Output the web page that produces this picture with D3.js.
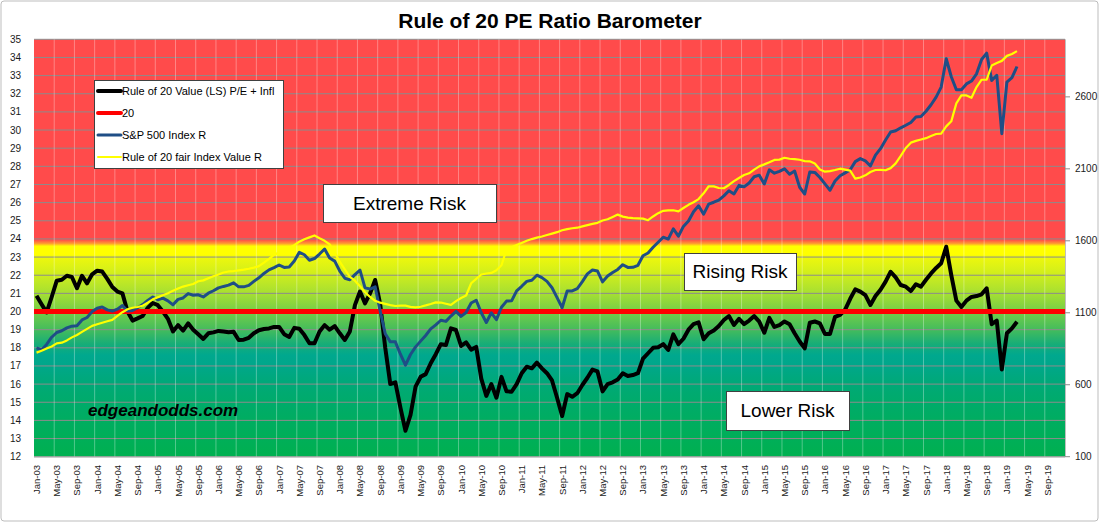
<!DOCTYPE html>
<html><head><meta charset="utf-8">
<script src="https://cdn.jsdelivr.net/npm/d3@7"></script>
<style>
html,body{margin:0;padding:0;background:#fff;}
text{font-family:"Liberation Sans",Arial,sans-serif;}
</style></head>
<body><svg id="c" width="1100" height="523"></svg>
<script>
// ---------- DATA ----------
const startMonth = new Date(2003, 0, 1);
const endMonth = new Date(2020, 0, 1); // exclusive: categories Jan-03 .. Dec-19
const fmt = d3.timeFormat("%b-%y");
const categories = d3.timeMonths(startMonth, endMonth).map(fmt);

const tickLabels = ["Jan-03","May-03","Sep-03","Jan-04","May-04","Sep-04","Jan-05","May-05","Sep-05",
"Jan-06","May-06","Sep-06","Jan-07","May-07","Sep-07","Jan-08","May-08","Sep-08","Jan-09","May-09","Sep-09",
"Jan-10","May-10","Sep-10","Jan-11","May-11","Sep-11","Jan-12","May-12","Sep-12","Jan-13","May-13","Sep-13",
"Jan-14","May-14","Sep-14","Jan-15","May-15","Sep-15","Jan-16","May-16","Sep-16","Jan-17","May-17","Sep-17",
"Jan-18","May-18","Sep-18","Jan-19","May-19","Sep-19"];

const leftTicks = [12,13,14,15,16,17,18,19,20,21,22,23,24,25,26,27,28,29,30,31,32,33,34,35];
const rightTicks = [100,600,1100,1600,2100,2600];

// Rule of 20 Value (LS) P/E + Infl  (monthly from Jan-03)
const ruleOf20 = [20.87,20.4,19.95,20.8,21.7,21.75,21.97,21.9,21.28,21.97,21.55,22.05,22.25,22.2,21.8,21.35,21.1,21.0,20.0,19.5,
19.62,19.75,20.2,20.47,20.35,20.0,19.6,18.9,19.25,18.95,19.35,19.0,18.75,18.49,18.8,18.85,18.93,18.9,18.86,18.88,
18.43,18.45,18.55,18.8,18.97,19.04,19.07,19.15,19.15,18.75,18.6,19.1,19.05,18.7,18.25,18.25,18.9,19.25,19.0,19.2,
18.8,18.43,18.9,20.35,21.1,20.45,21.0,21.74,20.4,18.0,16.0,16.1,14.7,13.43,14.3,15.86,16.4,16.55,17.15,17.65,
18.2,18.15,19.07,18.98,18.1,18.3,17.9,18.05,16.3,15.35,16.0,15.25,16.4,15.6,15.58,16.0,16.6,16.96,16.87,17.18,
16.87,16.6,16.2,15.25,14.24,15.45,15.3,15.5,15.95,16.35,16.8,16.7,15.6,16.0,16.1,16.25,16.6,16.45,16.5,16.6,
17.4,17.7,18.0,18.03,18.2,17.88,18.74,18.2,18.5,19.0,19.3,19.4,18.47,18.8,18.95,19.2,19.53,19.75,19.26,19.6,
19.3,19.5,19.75,19.44,18.83,19.65,19.15,19.25,19.45,19.3,18.8,18.35,17.97,19.38,19.45,19.35,18.76,18.76,19.71,19.81,
20.1,20.7,21.22,21.1,20.9,20.36,20.85,21.2,21.65,22.19,21.88,21.46,21.37,21.13,21.5,21.37,21.75,22.1,22.4,22.66,
23.57,22.0,20.6,20.25,20.6,20.8,20.85,20.95,21.28,19.3,19.5,16.8,18.8,19.07,19.44];

// 20 reference level
const twentyLevel = 20;

// S&P 500 Index (right scale)
const sp500 = [856,842,880,930,963,975,995,1007,1010,1050,1067,1108,1131,1140,1120,1112,1125,1150,1112,1116,
1135,1157,1186,1210,1190,1202,1183,1155,1193,1203,1233,1222,1225,1210,1236,1253,1273,1283,1292,1308,
1280,1280,1290,1318,1343,1373,1398,1414,1432,1415,1418,1460,1520,1503,1465,1477,1508,1543,1480,1459,
1390,1340,1329,1365,1396,1273,1265,1280,1112,954,898,898,812,736,810,863,903,942,988,1016,
1048,1040,1077,1110,1075,1102,1168,1187,1100,1032,1100,1052,1138,1181,1183,1252,1284,1318,1326,1361,
1344,1318,1274,1205,1135,1252,1252,1268,1316,1370,1397,1390,1315,1355,1380,1401,1434,1415,1416,1430,
1496,1515,1555,1590,1625,1612,1683,1632,1700,1738,1802,1843,1785,1855,1868,1882,1912,1948,1925,1985,
1975,2002,2045,2056,1995,2093,2070,2083,2100,2063,2085,1972,1925,2078,2075,2040,1995,1951,2015,2052,
2072,2094,2150,2171,2155,2120,2195,2240,2300,2356,2365,2385,2403,2422,2460,2464,2500,2545,2598,2668,
2865,2740,2650,2650,2690,2710,2760,2860,2904,2714,2750,2344,2702,2733,2811];

// Rule of 20 fair Index Value (right scale)
const fairValue = [823,836,852,866,887,892,908,929,946,967,988,1009,1020,1031,1041,1051,1078,1104,1124,1135,
1140,1149,1170,1193,1208,1222,1235,1253,1268,1282,1291,1300,1319,1325,1340,1354,1366,1380,1387,1390,
1395,1400,1406,1414,1424,1448,1474,1502,1520,1535,1550,1569,1594,1611,1624,1637,1618,1600,1575,1520,
1455,1401,1350,1323,1285,1243,1210,1183,1170,1162,1153,1147,1150,1150,1141,1138,1142,1151,1161,1172,
1171,1163,1155,1181,1203,1220,1305,1336,1366,1373,1377,1395,1430,1540,1555,1570,1585,1600,1612,1622,
1630,1640,1650,1660,1673,1681,1687,1691,1700,1709,1718,1725,1741,1750,1766,1782,1768,1761,1758,1756,
1754,1743,1769,1792,1808,1812,1812,1805,1828,1850,1868,1890,1930,1979,1978,1967,1965,1988,2015,2036,
2057,2069,2095,2117,2131,2146,2162,2164,2177,2170,2167,2163,2154,2152,2137,2095,2080,2084,2092,2101,
2095,2088,2032,2040,2055,2078,2092,2093,2090,2105,2138,2190,2245,2282,2294,2304,2313,2328,2342,2345,
2395,2430,2555,2610,2610,2594,2668,2719,2719,2818,2836,2850,2885,2898,2918];

const seriesNames = ["Rule of 20 Value (LS) P/E + Infl","20","S&P 500 Index R","Rule of 20 fair Index Value R"];
const seriesColors = ["#000000","#FF0000","#1F4E86","#FFFF00"];
const zoneLabels = ["Extreme Risk","Rising Risk","Lower Risk"];

// ---------- LAYOUT ----------
const svg = d3.select("#c");
const L = 34, R = 1065, T = 39.3, B = 456.7;

const x = d3.scaleBand().domain(categories).range([L, R]).paddingInner(0).paddingOuter(0);
const bw = x.bandwidth();
const cx = i => x(categories[i]) + bw / 2;
const yL = d3.scaleLinear().domain([12, 35]).range([B, T]);
const yR = d3.scaleLinear().domain([100, 3000]).range([B, T]);

// outer border
svg.append("rect").attr("x",1).attr("y",1).attr("width",1097).attr("height",520)
  .attr("rx",3).attr("fill","#fff").attr("stroke","#bdbdbd");

// background gradient
const defs = svg.append("defs");
const grad = defs.append("linearGradient").attr("id","bg").attr("x1",0).attr("x2",0).attr("y1",0).attr("y2",1);
const stops = [[35,"#FF4B4B"],[23.95,"#FF4B4B"],[23.75,"#FF9A30"],[23.6,"#FFFF00"],[23.15,"#FFFF00"],
  [23.0,"#EEF80C"],[22.0,"#CDED1E"],[21.0,"#A6DF32"],[20.0,"#74CE48"],[19.0,"#44BC5C"],[18.2,"#16AD78"],
  [17.6,"#00A88E"],[17.0,"#00A78A"],[16.4,"#00A87E"],[15.5,"#00AA70"],[14.0,"#00AD60"],[12,"#00B050"]];
stops.forEach(([v,c]) => grad.append("stop").attr("offset", (35 - v) / 23).attr("stop-color", c));
svg.append("rect").attr("x",L).attr("y",T).attr("width",R-L).attr("height",B-T).attr("fill","url(#bg)");

// horizontal gridlines
svg.append("g").selectAll("line").data(leftTicks).join("line")
  .attr("x1",L).attr("x2",R).attr("y1",d=>yL(d)).attr("y2",d=>yL(d))
  .attr("stroke","#8c8c8c").attr("stroke-width",1);

// vertical gridlines (every 4 months, at category edges)
const vIdx = d3.range(4, categories.length, 4);
svg.append("g").selectAll("line").data(vIdx).join("line")
  .attr("x1",d=>x(categories[d])).attr("x2",d=>x(categories[d])).attr("y1",T).attr("y2",B)
  .attr("stroke","#ffffff").attr("stroke-opacity",0.32).attr("stroke-width",1);

// left axis labels
svg.append("g").selectAll("text").data(leftTicks).join("text")
  .attr("x",21).attr("y",d=>yL(d)+3.5).attr("text-anchor","end")
  .attr("font-size",10).attr("fill","#1a1a1a").text(d=>d);

// right axis
svg.append("line").attr("x1",R+0.5).attr("x2",R+0.5).attr("y1",T).attr("y2",B).attr("stroke","#bfbfbf");
svg.append("g").selectAll("line").data(rightTicks).join("line")
  .attr("x1",R).attr("x2",R+5).attr("y1",d=>yR(d)).attr("y2",d=>yR(d)).attr("stroke","#8c8c8c");
svg.append("g").selectAll("text").data(rightTicks).join("text")
  .attr("x",1075).attr("y",d=>yR(d)+3.5).attr("text-anchor","start")
  .attr("font-size",10).attr("fill","#1a1a1a").text(d=>d);

// bottom axis line
svg.append("line").attr("x1",L).attr("x2",R).attr("y1",B+0.5).attr("y2",B+0.5).attr("stroke","#bfbfbf");

// x labels
svg.append("g").selectAll("text").data(tickLabels).join("text")
  .attr("transform",d=>`translate(${x(d)+bw/2+3.5},465) rotate(-90)`)
  .attr("text-anchor","end").attr("font-size",9.5).attr("fill","#1a1a1a").text(d=>d);

// watermark
svg.append("text").attr("x",88).attr("y",416).attr("font-size",17).attr("font-weight","bold")
  .attr("font-style","italic").attr("fill","#000").text("edgeandodds.com");

// ---------- LINES ----------
const lineL = d3.line().x((d,i)=>cx(i)).y(d=>yL(d));
const lineR = d3.line().x((d,i)=>cx(i)).y(d=>yR(d));

svg.append("path").datum(ruleOf20).attr("d",lineL).attr("fill","none")
  .attr("stroke",seriesColors[0]).attr("stroke-width",4).attr("stroke-linejoin","round");
svg.append("line").attr("x1",L).attr("x2",R).attr("y1",yL(twentyLevel)).attr("y2",yL(twentyLevel))
  .attr("stroke",seriesColors[1]).attr("stroke-width",5);
svg.append("path").datum(sp500).attr("d",lineR).attr("fill","none")
  .attr("stroke",seriesColors[2]).attr("stroke-width",3).attr("stroke-linejoin","round");
svg.append("path").datum(fairValue).attr("d",lineR).attr("fill","none")
  .attr("stroke",seriesColors[3]).attr("stroke-width",2.2).attr("stroke-linejoin","round");

// ---------- ZONE LABEL BOXES ----------
const boxes = [
  {t:zoneLabels[0], x:323, y:184, w:173, h:38},
  {t:zoneLabels[1], x:684, y:253, w:112, h:37},
  {t:zoneLabels[2], x:726, y:391, w:123, h:39}
];
const bg = svg.append("g");
boxes.forEach(b=>{
  bg.append("rect").attr("x",b.x+0.5).attr("y",b.y+0.5).attr("width",b.w).attr("height",b.h)
    .attr("fill","#fff").attr("stroke","#404040").attr("stroke-width",1);
  bg.append("text").attr("x",b.x+b.w/2).attr("y",b.y+b.h/2+6.5).attr("text-anchor","middle")
    .attr("font-size",19).attr("fill","#000").text(b.t);
});

// ---------- LEGEND ----------
const lg = svg.append("g");
lg.append("rect").attr("x",94.5).attr("y",80.5).attr("width",189).attr("height",88)
  .attr("fill","#fff").attr("stroke","#404040");
const lw = [4,4,3,2];
seriesNames.forEach((n,i)=>{
  const yy = 91 + i*22;
  lg.append("line").attr("x1",98).attr("x2",121).attr("y1",yy).attr("y2",yy)
    .attr("stroke",seriesColors[i]).attr("stroke-width",lw[i]).attr("stroke-linecap","round");
  lg.append("text").attr("x",122).attr("y",yy+4).attr("font-size",11).attr("fill","#000").text(n);
});

// ---------- TITLE ----------
svg.append("text").attr("x",550).attr("y",28).attr("text-anchor","middle")
  .attr("font-size",21).attr("font-weight","bold").attr("fill","#000").text("Rule of 20 PE Ratio Barometer");
</script></body></html>
